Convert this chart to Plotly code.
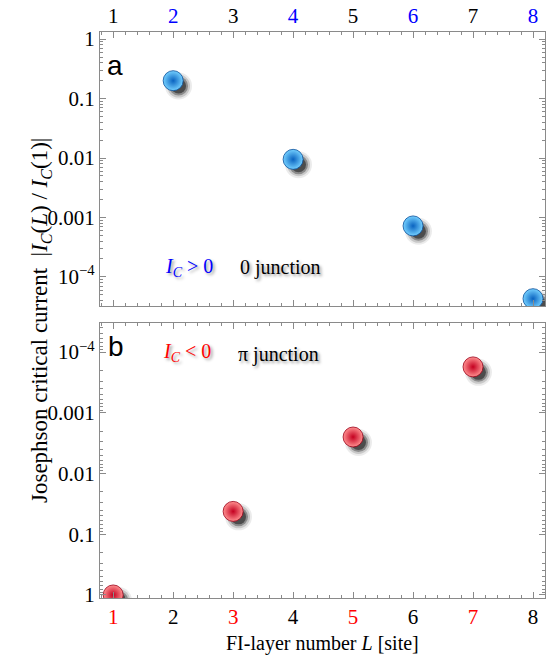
import plotly.graph_objects as go
import numpy as np

# ---- data ----
L_pos = [2, 4, 6, 8]
Ic_pos = [0.2, 0.0095, 7.2e-4, 4.3e-5]
L_neg = [1, 3, 5, 7]
Ic_neg = [1.0, 0.042, 0.0025, 1.75e-4]

x_ticks = [1, 2, 3, 4, 5, 6, 7, 8]
top_tick_colors = ["black", "blue", "black", "blue", "black", "blue", "black", "blue"]
bot_tick_colors = ["red", "black", "red", "black", "red", "black", "red", "black"]
y_tickvals = [1, 0.1, 0.01, 0.001, 1e-4]
y_ticktext = ["1", "0.1", "0.01", "0.001", "10<sup>\u22124</sup>"]

SERIF = "Liberation Serif"
SANS = "Liberation Sans"

fig = go.Figure()

# shadow offsets (in data units, derived from the axes scales)
dx = 0.09
dlog = 0.09
shadow_layers = [(27, 0.08), (23, 0.15), (19, 0.3), (15, 0.45)]

for size, op in shadow_layers:
    fig.add_trace(go.Scatter(
        x=np.array(L_pos) + dx, y=np.array(Ic_pos) * 10 ** (-dlog),
        mode="markers", xaxis="x", yaxis="y",
        marker=dict(size=size, color="black", opacity=op, line=dict(width=0)),
        hoverinfo="skip", showlegend=False))
    fig.add_trace(go.Scatter(
        x=np.array(L_neg) + dx, y=np.array(Ic_neg) * 10 ** (dlog),
        mode="markers", xaxis="x2", yaxis="y2",
        marker=dict(size=size, color="black", opacity=op, line=dict(width=0)),
        hoverinfo="skip", showlegend=False))

fig.add_trace(go.Scatter(
    x=L_pos, y=Ic_pos, mode="markers", xaxis="x", yaxis="y",
    marker=dict(size=20, color="#74d0ff", line=dict(width=0.8, color="#0a4f9a"),
                gradient=dict(type="radial", color="#0a63c0")),
    showlegend=False))
fig.add_trace(go.Scatter(
    x=L_neg, y=Ic_neg, mode="markers", xaxis="x2", yaxis="y2",
    marker=dict(size=20, color="#ff9090", line=dict(width=0.8, color="#9a0018"),
                gradient=dict(type="radial", color="#c40020")),
    showlegend=False))

minor_y = []
for e in range(-5, 1):
    for k in range(2, 10):
        minor_y.append(k * 10.0 ** e)
minor_x = [v / 5 for v in range(3, 45) if v % 5 != 0]

axis_common = dict(showline=True, linecolor="#8a8a8a", linewidth=1.2, mirror="ticks",
                   ticks="inside", tickcolor="#8a8a8a", ticklen=6, showgrid=False,
                   zeroline=False, automargin=False, tickfont=dict(family=SERIF, size=21))

top_text = [f"<span style='color:{c}'>{v}</span>" for v, c in zip(x_ticks, top_tick_colors)]
bot_text = [f"<span style='color:{c}'>{v}</span>" for v, c in zip(x_ticks, bot_tick_colors)]

xdom = [100 / 554, 545 / 554]
fig.update_layout(
    width=554, height=660, margin=dict(l=0, r=0, t=0, b=0),
    paper_bgcolor="white", plot_bgcolor="white",
    font=dict(family=SERIF, size=20, color="black"),
    xaxis=dict(domain=xdom, range=[0.78, 8.2], side="top", tickmode="array",
               tickvals=x_ticks, ticktext=top_text, anchor="y",
               minor=dict(tickmode="array", tickvals=minor_x, ticks="inside",
                          ticklen=3, tickcolor="#8a8a8a"),
               **axis_common),
    yaxis=dict(domain=[1 - 306 / 660, 1 - 32 / 660], type="log", range=[-4.49, 0.12],
               tickmode="array", tickvals=y_tickvals, ticktext=y_ticktext, anchor="x",
               minor=dict(tickmode="array", tickvals=minor_y, ticks="inside",
                          ticklen=3, tickcolor="#8a8a8a"),
               **axis_common),
    xaxis2=dict(domain=xdom, range=[0.78, 8.2], side="bottom", tickmode="array",
                tickvals=x_ticks, ticktext=bot_text, anchor="y2",
                minor=dict(tickmode="array", tickvals=minor_x, ticks="inside",
                           ticklen=3, tickcolor="#8a8a8a"),
                **axis_common),
    yaxis2=dict(domain=[1 - 598 / 660, 1 - 323 / 660], type="log", range=[0.05, -4.48],
                tickmode="array", tickvals=y_tickvals, ticktext=y_ticktext, anchor="x2",
                minor=dict(tickmode="array", tickvals=minor_y, ticks="inside",
                           ticklen=3, tickcolor="#8a8a8a"),
                **axis_common),
)

shadow_txt = "2px 2px 3px #999"
IC = "<i>I</i><sub><i>C</i></sub>"
annots = [
    dict(x=105 / 554, y=1 - 48 / 660, text="a", font=dict(family=SANS, size=28), xanchor="left"),
    dict(x=106 / 554, y=1 - 346 / 660, text="b", font=dict(family=SANS, size=28), xanchor="left"),
    dict(x=163 / 554, y=1 - 267 / 660, text=f"{IC} &gt; 0",
         font=dict(family=SERIF, size=20, color="blue", shadow=shadow_txt), xanchor="left"),
    dict(x=238 / 554, y=1 - 268 / 660, text="0 junction",
         font=dict(family=SERIF, size=20, color="black", shadow=shadow_txt), xanchor="left"),
    dict(x=161 / 554, y=1 - 353 / 660, text=f"{IC} &lt; 0",
         font=dict(family=SERIF, size=20, color="red", shadow=shadow_txt), xanchor="left"),
    dict(x=236 / 554, y=1 - 354 / 660, text="\u03c0 junction",
         font=dict(family=SERIF, size=20, color="black", shadow=shadow_txt), xanchor="left"),
    dict(x=25 / 554, y=1 - 321 / 660, textangle=-90,
         text=f"Josephson critical current  |{IC}(<i>L</i>) / {IC}(1)|",
         font=dict(family=SERIF, size=23)),
    dict(x=322 / 554, y=1 - 657 / 660, yanchor="bottom", text="FI-layer number <i>L</i> [site]",
         font=dict(family=SERIF, size=20)),
]
for a in annots:
    a.update(xref="paper", yref="paper", showarrow=False)
    fig.add_annotation(**a)

fig.write_html("out.html")
